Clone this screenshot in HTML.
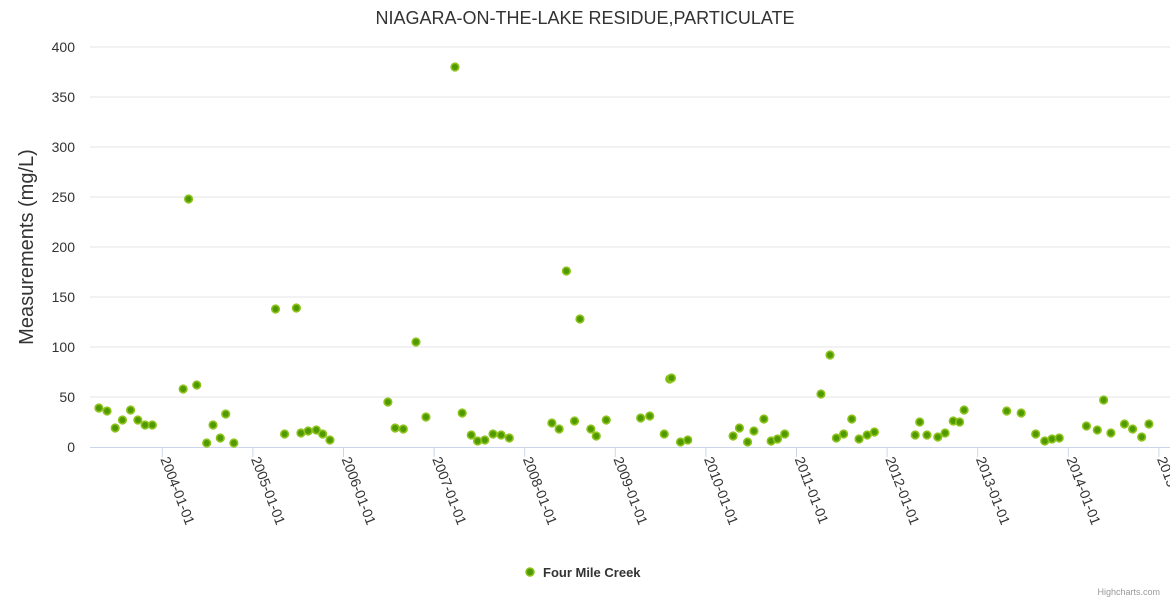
<!DOCTYPE html>
<html><head><meta charset="utf-8"><style>
body{margin:0;background:#fff;font-family:"Liberation Sans",sans-serif}
svg text{font-family:"Liberation Sans",sans-serif}
</style></head><body>
<svg id="c" width="1170" height="600" xmlns="http://www.w3.org/2000/svg">
<text x="585" y="24" text-anchor="middle" font-size="18" fill="#333">NIAGARA-ON-THE-LAKE RESIDUE,PARTICULATE</text>
<text transform="translate(33,247) rotate(-90)" text-anchor="middle" font-size="20" fill="#333">Measurements (mg/L)</text>
<g id="grid"></g><g id="xax"></g><g id="pts"></g>
<g>
<circle cx="530" cy="572" r="4" fill="#4f9a00" stroke="#8cc21a" stroke-width="1.5"/>
<text x="543" y="577" font-size="13" font-weight="bold" fill="#333">Four Mile Creek</text></g>
<text x="1160" y="595" text-anchor="end" font-size="9" fill="#999">Highcharts.com</text>
</svg>
<script>
const yTicks=[0,50,100,150,200,250,300,350,400];
const xYears=[2004,2005,2006,2007,2008,2009,2010,2011,2012,2013,2014,2015];
const dates=[2003.30,2003.39,2003.48,2003.56,2003.65,2003.73,2003.81,2003.89,2004.23,2004.29,2004.38,2004.49,2004.56,2004.64,2004.70,2004.79,2005.25,2005.35,2005.48,2005.53,2005.61,2005.70,2005.77,2005.85,2006.49,2006.57,2006.66,2006.80,2006.91,2007.23,2007.31,2007.41,2007.48,2007.56,2007.65,2007.74,2007.83,2008.30,2008.38,2008.46,2008.55,2008.61,2008.73,2008.79,2008.90,2009.28,2009.38,2009.54,2009.60,2009.62,2009.72,2009.80,2010.30,2010.37,2010.46,2010.53,2010.64,2010.72,2010.79,2010.87,2011.27,2011.37,2011.44,2011.52,2011.61,2011.69,2011.78,2011.86,2012.31,2012.36,2012.44,2012.56,2012.64,2012.73,2012.80,2012.85,2013.32,2013.48,2013.64,2013.74,2013.82,2013.90,2014.20,2014.32,2014.39,2014.47,2014.62,2014.71,2014.81,2014.89];
const values=[39,36,19,27,37,27,22,22,58,248,62,4,22,9,33,4,138,13,139,14,16,17,13,7,45,19,18,105,30,380,34,12,6,7,13,12,9,24,18,176,26,128,18,11,27,29,31,13,68,69,5,7,11,19,5,16,28,6,8,13,53,92,9,13,28,8,12,15,12,25,12,10,14,26,25,37,36,34,13,6,8,9,21,17,47,14,23,18,10,23];
const NS="http://www.w3.org/2000/svg";
const xs=yr=>162.3+(yr-2004)*90.6;
const ys=v=>447-v;
function mk(t,a,p){const e=document.createElementNS(NS,t);for(const k in a)e.setAttribute(k,a[k]);p.appendChild(e);return e;}
const g=document.getElementById('grid'),xa=document.getElementById('xax'),pg=document.getElementById('pts');
yTicks.forEach(v=>{
 if(v>0){const l=mk('line',{x1:90,x2:1170,y1:ys(v),y2:ys(v),stroke:'#e6e6e6'},g);
 
 }
 const t=mk('text',{x:75,y:ys(v)+5,'text-anchor':'end','font-size':14,fill:'#333'},g);t.textContent=v;
 
 
});
const ax=mk('line',{x1:90,x2:1170,y1:447.5,y2:447.5,stroke:'#ccd6eb'},xa);


xYears.forEach(y=>{
 const x=xs(y);
 const tk=mk('line',{x1:x,x2:x,y1:447,y2:457,stroke:'#ccd6eb'},xa);
 
 
 const t=mk('text',{transform:`translate(${x-2},${459}) rotate(69)`,'font-size':14,fill:'#333'},xa);t.textContent=y+'-01-01';
 
 
});
dates.forEach((d,i)=>{
 const c=mk('circle',{cx:xs(d),cy:ys(values[i]),r:3.8,fill:'#4f9a00',stroke:'#8cc21a','stroke-width':1.6},pg);
 
 
});
</script>
</body></html>
